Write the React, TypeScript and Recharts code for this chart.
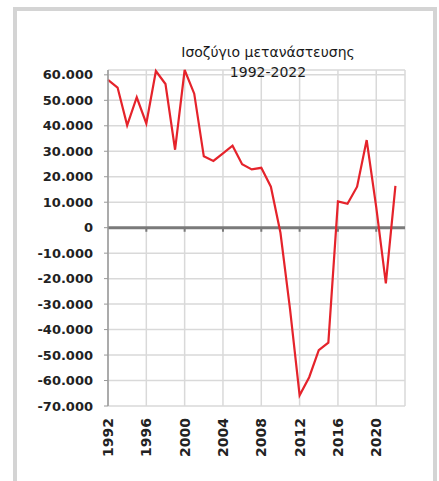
import React from "react";
import {
  LineChart,
  Line,
  XAxis,
  YAxis,
  CartesianGrid,
  ReferenceLine,
} from "recharts";

const years = [
  1992, 1993, 1994, 1995, 1996, 1997, 1998, 1999, 2000, 2001, 2002, 2003, 2004,
  2005, 2006, 2007, 2008, 2009, 2010, 2011, 2012, 2013, 2014, 2015, 2016, 2017,
  2018, 2019, 2020, 2021, 2022,
];
const balance = [
  58000, 55000, 40200, 51200, 40900, 61500, 56400, 30600, 61900, 52600, 28000,
  26200, 29200, 32200, 24900, 22900, 23500, 16100, -2000, -32000, -65800,
  -58700, -48100, -45100, 10300, 9400, 16100, 34400, 8000, -21900, 16400,
];
const xTicks = [1992, 1996, 2000, 2004, 2008, 2012, 2016, 2020];
const yTicks = [
  60000, 50000, 40000, 30000, 20000, 10000, 0, -10000, -20000, -30000, -40000,
  -50000, -60000, -70000,
];
const titleLines = ["Ισοζύγιο μετανάστευσης", "1992-2022"];

const data = years.map((y, i) => ({ year: y, value: balance[i] }));

const fmt = (v: number) => {
  const s = Math.abs(v)
    .toString()
    .replace(/\B(?=(\d{3})+(?!\d))/g, ".");
  return v < 0 ? "-" + s : s;
};

const XTick = (props: any) => {
  const { x, y, payload } = props;
  return (
    <g transform={`translate(${x},${y})`}>
      <text
        transform="rotate(-90)"
        x={-4}
        y={0}
        dy="0.36em"
        textAnchor="end"
        fontFamily="DejaVu Sans"
        fontWeight="bold"
        fontSize={14}
        fill="#222"
      >
        {payload.value}
      </text>
    </g>
  );
};

export default function App() {
  return (
    <div
      style={{
        position: "absolute",
        left: 0,
        top: 0,
        width: 439,
        height: 481,
        overflow: "hidden",
        background: "#fff",
      }}
    >
      <div
        style={{
          position: "absolute",
          left: 13,
          top: 7,
          width: 416,
          height: 490,
          border: "4px solid #d4d4d4",
        }}
      />
      <div
        style={{
          position: "absolute",
          left: 168,
          top: 42,
          width: 200,
          textAlign: "center",
          fontFamily: "DejaVu Sans",
          fontSize: 14,
          lineHeight: "20px",
          color: "#1a1a1a",
          zIndex: 2,
        }}
      >
        {titleLines.map((t) => (
          <div key={t}>{t}</div>
        ))}
      </div>
      <div style={{ position: "absolute", left: 0, top: 0 }}>
        <LineChart
          width={439}
          height={481}
          data={data}
          margin={{ top: 70, right: 34, bottom: 15, left: 0 }}
        >
          <CartesianGrid stroke="#d9d9d9" strokeWidth={1.5} />
          <XAxis
            dataKey="year"
            type="number"
            domain={[1992, 2023]}
            ticks={xTicks}
            height={60}
            axisLine={false}
            tickLine={false}
            tick={<XTick />}
            interval={0}
          />
          <YAxis
            type="number"
            domain={[-70000, 60000]}
            ticks={yTicks}
            width={108}
            interval={0}
            tickFormatter={fmt}
            axisLine={{ stroke: "#999", strokeWidth: 1.5 }}
            tickLine={{ stroke: "#999" }}
            tickSize={4}
            tickMargin={11}
            tick={{
              fontFamily: "DejaVu Sans",
              fontWeight: "bold",
              fontSize: 13,
              fill: "#222",
            }}
          />
          <ReferenceLine y={0} stroke="#7a7a7a" strokeWidth={3} />
          {xTicks.slice(1).map((t) => (
            <ReferenceLine
              key={t}
              segment={[
                { x: t, y: 0 },
                { x: t, y: -1600 },
              ]}
              stroke="#7a7a7a"
              strokeWidth={2}
            />
          ))}
          <Line
            type="linear"
            dataKey="value"
            stroke="#e5232b"
            strokeWidth={2.2}
            dot={false}
            isAnimationActive={false}
          />
        </LineChart>
      </div>
    </div>
  );
}
